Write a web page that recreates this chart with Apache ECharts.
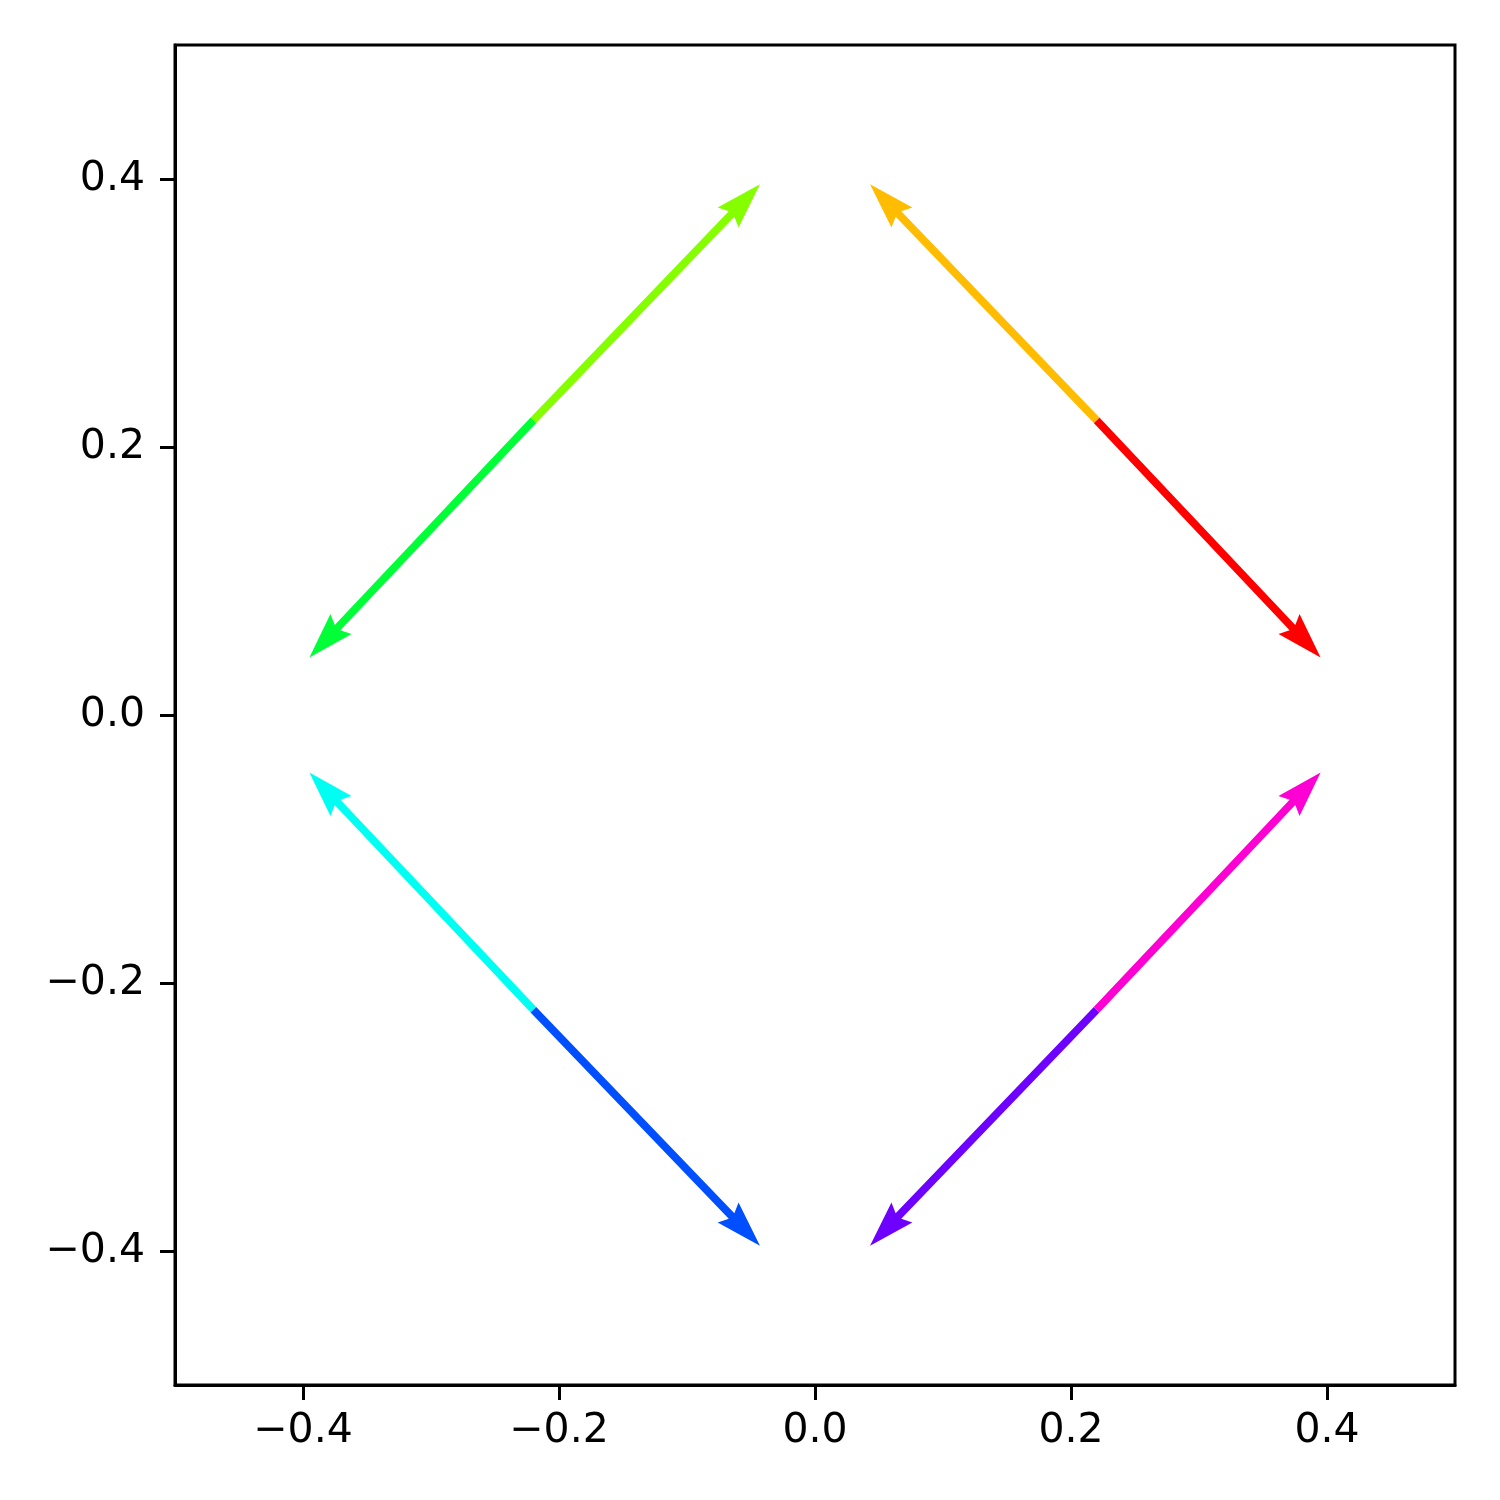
<!DOCTYPE html>
<html>
<head>
<meta charset="utf-8">
<script src="https://cdn.jsdelivr.net/npm/echarts@6/dist/echarts.min.js"></script>
<style>
  html, body { margin: 0; padding: 0; background: #fff; }
  #chart { width: 1500px; height: 1500px; }
</style>
</head>
<body>
<div id="chart"></div>
<script>
  // arrow tails and tips (data units)
  const originX = [0.22, 0.22, -0.22, -0.22, -0.22, -0.22, 0.22, 0.22]
  const originY = [0.22, 0.22, 0.22, 0.22, -0.22, -0.22, -0.22, -0.22]
  const tipX = [0.395, 0.043, -0.043, -0.395, -0.395, -0.043, 0.043, 0.395]
  const tipY = [0.043, 0.396, 0.396, 0.043, -0.043, -0.396, -0.396, -0.043]
  const tickValues = [-0.4, -0.2, 0, 0.2, 0.4]

  // hsv colormap at i/8
  const palette = ["#ff0000", "#ffbc00", "#85ff00", "#00ff37", "#00fff3", "#004fff", "#6e00ff", "#ff00d4"]

  const fmt = (v) => {
    const s = Math.abs(v).toFixed(1)
    return v < -1e-9 ? "\u2212" + s : s
  }

  const arrows = originX.map((x, i) => [x, originY[i], tipX[i], tipY[i]])

  function renderArrow(params, api) {
    const p0 = api.coord([api.value(0), api.value(1)])
    const p1 = api.coord([api.value(2), api.value(3)])
    const dx = p1[0] - p0[0]
    const dy = p1[1] - p0[1]
    const len = Math.sqrt(dx * dx + dy * dy)
    const d = [dx / len, dy / len]
    const n = [-d[1], d[0]]
    const hw = 3.9 // shaft half width
    const hl = 46 // head length
    const nl = 41 // notch length
    const hh = 14.5 // head half width
    const pt = (base, along, side) => [
      base[0] + d[0] * along + n[0] * side,
      base[1] + d[1] * along + n[1] * side,
    ]
    const points = [
      pt(p0, 0, hw),
      pt(p1, -nl, hw),
      pt(p1, -hl, hh),
      p1,
      pt(p1, -hl, -hh),
      pt(p1, -nl, -hw),
      pt(p0, 0, -hw),
    ]
    return {
      type: "polygon",
      shape: { points: points },
      style: { fill: palette[params.dataIndex], stroke: null },
    }
  }

  const axisCommon = {
    type: "value",
    min: -0.5,
    max: 0.5,
    axisLine: { show: true, onZero: false, lineStyle: { color: "#000", width: 3 } },
    axisTick: {
      show: true,
      inside: false,
      length: 15,
      customValues: tickValues,
      lineStyle: { color: "#000", width: 3 },
    },
    splitLine: { show: false },
  }

  const option = {
    backgroundColor: "#fff",
    animation: false,
    grid: {
      left: 175,
      right: 45,
      top: 45,
      bottom: 115,
      show: true,
      borderColor: "#000",
      borderWidth: 3,
      backgroundColor: "transparent",
    },
    xAxis: {
      ...axisCommon,
      axisLabel: {
        customValues: tickValues,
        formatter: fmt,
        color: "#000",
        fontSize: 41,
        fontFamily: "DejaVu Sans",
        margin: 26,
      },
    },
    yAxis: {
      ...axisCommon,
      axisLabel: {
        customValues: tickValues,
        formatter: fmt,
        color: "#000",
        fontSize: 41,
        fontFamily: "DejaVu Sans",
        margin: 30,
      },
    },
    series: [
      {
        type: "custom",
        coordinateSystem: "cartesian2d",
        renderItem: renderArrow,
        encode: { x: [0, 2], y: [1, 3] },
        data: arrows,
        clip: false,
      },
    ],
  }

  const myChart = echarts.init(document.getElementById("chart"))
  myChart.setOption(option)
</script>
</body>
</html>
